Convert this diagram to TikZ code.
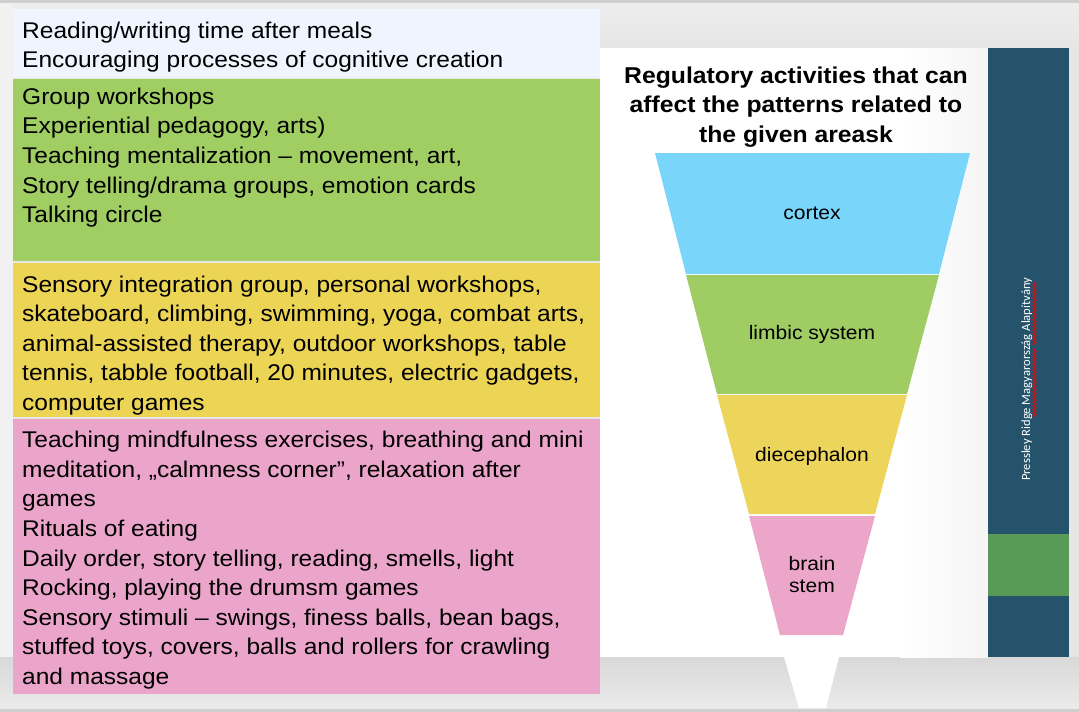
\documentclass[tikz,border=0pt]{standalone}
\usepackage{fontspec}
\setmainfont{Liberation Sans}[FakeStretch=1.08]
\newfontfamily\barfont{Carlito}
\usetikzlibrary{decorations.pathmorphing}
\definecolor{bggray}{HTML}{E6E6E6}
\definecolor{toplight}{HTML}{EEEEEE}
\definecolor{topline}{HTML}{CFCFCF}
\definecolor{stripgray}{HTML}{F1F1F1}
\definecolor{boxblue}{HTML}{EEF5FE}
\definecolor{boxgreen}{HTML}{A0CE63}
\definecolor{boxyellow}{HTML}{ECD455}
\definecolor{boxpink}{HTML}{EBA5CA}
\definecolor{fcortex}{HTML}{7AD5FA}
\definecolor{flimbic}{HTML}{A0CD63}
\definecolor{fdie}{HTML}{EDD45A}
\definecolor{fstem}{HTML}{EBA6C9}
\definecolor{bardark}{HTML}{24536B}
\definecolor{bargreen}{HTML}{5A9A58}
\tikzset{
  lefttxt/.style={font=\fontsize{22.7}{29.6}\selectfont, align=left, inner sep=0pt, anchor=north west, text=black},
  titletxt/.style={font=\bfseries\fontsize{22.9}{29.5}\selectfont, align=center, inner sep=0pt, anchor=north, text=black},
  funneltxt/.style={font=\fontsize{19.5}{22}\selectfont, align=center, inner sep=0pt, text=black},
  spell/.style={red, line width=0.8pt, decorate, decoration={zigzag, amplitude=1.5pt, segment length=3.5pt}},
}
\begin{document}
\begin{tikzpicture}[x=1pt,y=-1pt]
\useasboundingbox (0,0) rectangle (1079,712);
% screenshot background
\fill[bggray] (0,0) rectangle (1079,712);
\fill[topline] (0,0) rectangle (1079,3);
\shade[top color=toplight, bottom color=bggray] (0,3) rectangle (1079,48);
\fill[stripgray] (0,3) rectangle (13,657);
\shade[top color=black!15, bottom color=black!8] (0,657) rectangle (1079,709);
\fill[topline] (0,709) rectangle (1079,712);
% slide
\fill[white] (600,48) rectangle (900,657);
\shade[left color=white, right color=black!4] (900,48) rectangle (988,657);
% spout under the slide
\fill[white] (784,657) -- (839,657) -- (826,708) -- (799,708) -- cycle;
% right bar
\fill[bardark] (988,48) rectangle (1069,657);
\fill[bargreen] (988,534) rectangle (1069,596);
\node[font=\barfont\fontsize{12.6}{14}\selectfont, text=white, rotate=90, inner sep=0pt, anchor=base west] (barlabel) at (1030,481) {Pressley Ridge Magyarország Alapítvány};
\draw[spell] (1034.5,417) -- (1034.5,349);
\draw[spell] (1034.5,345) -- (1034.5,282);
% left boxes
\fill[boxblue] (13,9) rectangle (600,78);
\fill[boxgreen] (13,79) rectangle (600,261);
\fill[boxyellow] (13,263) rectangle (600,417);
\fill[boxpink] (13,419) rectangle (600,694);
\node[lefttxt] (tblue) at (22,21.6) {Reading/writing time after meals\\Encouraging processes of cognitive creation};
\node[lefttxt] (tgreen) at (22,87.6) {Group workshops\\Experiential pedagogy, arts)\\Teaching mentalization – movement, art,\\Story telling/drama groups, emotion cards\\Talking circle};
\node[lefttxt] (tyellow) at (22,275.5) {Sensory integration group, personal workshops,\\skateboard, climbing, swimming, yoga, combat arts,\\animal-assisted therapy, outdoor workshops, table\\tennis, tabble football, 20 minutes, electric gadgets,\\computer games};
\node[lefttxt] (tpink) at (22,431) {Teaching mindfulness exercises, breathing and mini\\meditation, „calmness corner”, relaxation after\\games\\Rituals of eating\\Daily order, story telling, reading, smells, light\\Rocking, playing the drumsm games\\Sensory stimuli – swings, finess balls, bean bags,\\stuffed toys, covers, balls and rollers for crawling\\and massage};
% title
\node[titletxt] (title) at (796,66.5) {Regulatory activities that can\\affect the patterns related to\\the given areask};
% funnel
\fill[fcortex] (655,153) -- (970,153) -- (939,274) -- (686,274) -- cycle;
\fill[flimbic] (686,275) -- (939,275) -- (907,394) -- (717,394) -- cycle;
\fill[fdie] (717,395) -- (907,395) -- (875,514) -- (749,514) -- cycle;
\fill[fstem] (749,516) -- (875,516) -- (843,635) -- (780,635) -- cycle;
\node[funneltxt, anchor=base] (cortex) at (812,219) {cortex};
\node[funneltxt, anchor=base] (limbic) at (812,339) {limbic system};
\node[funneltxt, anchor=base] (die) at (812,461) {diecephalon};
\node[funneltxt, anchor=north] (stem) at (812,556) {brain\\stem};
\end{tikzpicture}
\end{document}
